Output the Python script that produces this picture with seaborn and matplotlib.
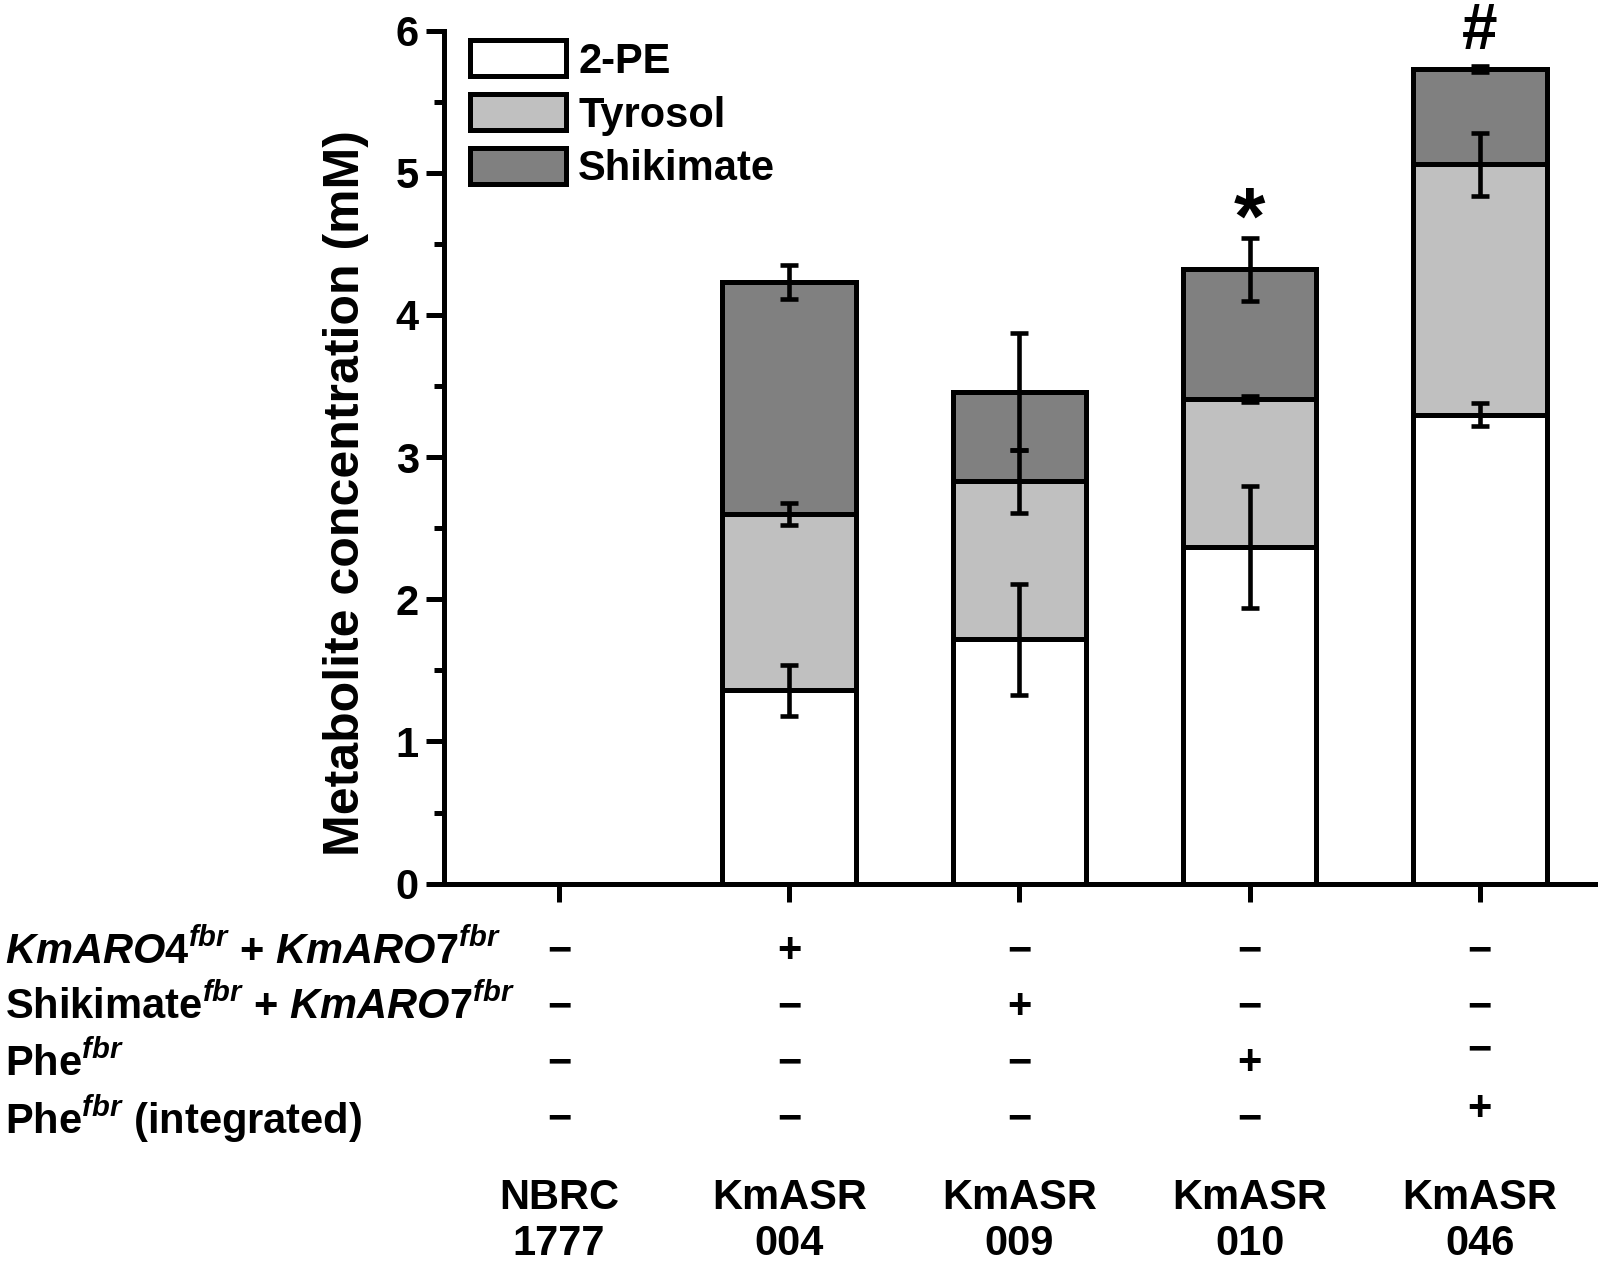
'''Stacked metabolite concentrations (2-PE, Tyrosol, Shikimate) for each strain.'''

import numpy as np
import pandas as pd
import seaborn as sns
import matplotlib.pyplot as plt
from matplotlib.transforms import blended_transform_factory

# values (mM)
strains = ['NBRC\n1777', 'KmASR\n004', 'KmASR\n009', 'KmASR\n010', 'KmASR\n046']
pe = [0, 1.36, 1.72, 2.37, 3.30]
tyrosol = [0, 1.24, 1.11, 1.04, 1.76]
shikimate = [0, 1.63, 0.63, 0.91, 0.67]
pe_err = [0, 0.18, 0.39, 0.43, 0.08]
tyrosol_err = [0, 0.08, 0.22, 0.02, 0.22]
shikimate_err = [0, 0.12, 0.41, 0.22, 0.02]
marks = ['', '', '', '*', '#']

# genotype table under the axis
row_labels = [r'$\mathit{KmARO4}^{\mathit{fbr}}$ + $\mathit{KmARO7}^{\mathit{fbr}}$',
              r'Shikimate$^{\mathit{fbr}}$ + $\mathit{KmARO7}^{\mathit{fbr}}$',
              r'Phe$^{\mathit{fbr}}$',
              r'Phe$^{\mathit{fbr}}$ (integrated)']
signs = [['−', '+', '−', '−', '−'],
         ['−', '−', '+', '−', '−'],
         ['−', '−', '−', '+', '−'],
         ['−', '−', '−', '−', '+']]

sns.set_style('ticks')
plt.rcParams['font.family'] = ['Liberation Sans', 'DejaVu Sans']
plt.rcParams['font.weight'] = 'bold'
plt.rcParams['mathtext.fontset'] = 'custom'
plt.rcParams['mathtext.rm'] = 'Liberation Sans:bold'
plt.rcParams['mathtext.it'] = 'Liberation Sans:italic:bold'
plt.rcParams['mathtext.bf'] = 'Liberation Sans:bold'
for k in ['text.color', 'axes.labelcolor', 'axes.edgecolor', 'xtick.color', 'ytick.color']:
    plt.rcParams[k] = 'black'

df = pd.DataFrame({'strain': strains, 'pe': pe, 'tyr': tyrosol, 'shik': shikimate})
df['pe_top'] = df['pe']
df['tyr_top'] = df['pe'] + df['tyr']
df['shik_top'] = df['tyr_top'] + df['shik']

fig = plt.figure(figsize=(15.98, 12.66), dpi=100)
ax = fig.add_axes([0.2778, 0.302, 0.7203, 0.6738])

lw = 3.6
layers = [('Shikimate', 'shik_top', '#808080'),
          ('Tyrosol', 'tyr_top', '#c0c0c0'),
          ('2-PE', 'pe_top', 'white')]
for name, col, c in layers:
    sns.barplot(data=df, x='strain', y=col, color=c, saturation=1, width=0.58,
                edgecolor='black', linewidth=lw, errorbar=None, label=name, ax=ax)

# error bars at the top of each segment
xs = np.arange(len(strains))
has = df['shik_top'].values > 0
for col, err in [('pe_top', pe_err), ('tyr_top', tyrosol_err), ('shik_top', shikimate_err)]:
    ax.errorbar(xs[has], df[col].values[has], yerr=np.array(err)[has], fmt='none',
                ecolor='black', elinewidth=3.3, capsize=6.8, capthick=3.3, zorder=5)

# significance marks above the bars
mark_size = {'*': 58, '#': 46}
mark_off = {'*': -0.04, '#': 0.12}
for i, m in enumerate(marks):
    if m:
        ax.text(i, df['shik_top'][i] + shikimate_err[i] + mark_off[m], m, ha='center',
                va='baseline', fontsize=mark_size[m], fontweight='bold')

ax.set_xlim(-0.5, len(strains) - 0.5)
ax.set_ylim(0, 6)
ax.set_yticks(range(7))
ax.set_yticks(np.arange(0.5, 6, 1), minor=True)
ax.set_xticks(xs)
ax.set_xticklabels([])
ax.set_xlabel('')
ax.set_ylabel('Metabolite concentration (mM)', fontsize=36, fontweight='bold')
ax.yaxis.set_label_coords(-0.065, 0.458)
ax.tick_params(axis='y', which='major', direction='out', length=13, width=lw, labelsize=30, pad=5)
ax.tick_params(axis='y', which='minor', direction='out', length=7, width=lw)
ax.tick_params(axis='x', direction='out', length=13, width=lw)
for s in ['top', 'right']:
    ax.spines[s].set_visible(False)
for s in ['left', 'bottom']:
    ax.spines[s].set_linewidth(lw)

handles, labels = ax.get_legend_handles_labels()
order = [labels.index(n) for n in ['2-PE', 'Tyrosol', 'Shikimate']]
ax.legend([handles[k] for k in order], [labels[k] for k in order], loc='upper left',
          bbox_to_anchor=(0.008, 1.008), borderaxespad=0, frameon=False, fontsize=30,
          handlelength=2.3, handleheight=0.95, labelspacing=0.3, handletextpad=0.3)

# genotype rows and strain names below the axis
tr = blended_transform_factory(ax.transData, fig.transFigure)
row_y = [0.2488, 0.2046, 0.1603, 0.1161]
nudge = {(2, 4): 0.010, (3, 4): 0.008}
for r, lab in enumerate(row_labels):
    fig.text(0.003, row_y[r], lab, ha='left', va='center', fontsize=30, fontweight='bold')
    for i, s in enumerate(signs[r]):
        ax.text(i, row_y[r] + nudge.get((r, i), 0), s, transform=tr, ha='center', va='center',
                fontsize=30, fontweight='bold', clip_on=False)
for i, s in enumerate(strains):
    ax.text(i, 0.0355, s, transform=tr, ha='center', va='center', fontsize=30,
            fontweight='bold', linespacing=1.2, clip_on=False)

fig.savefig('out.png', dpi=100)
